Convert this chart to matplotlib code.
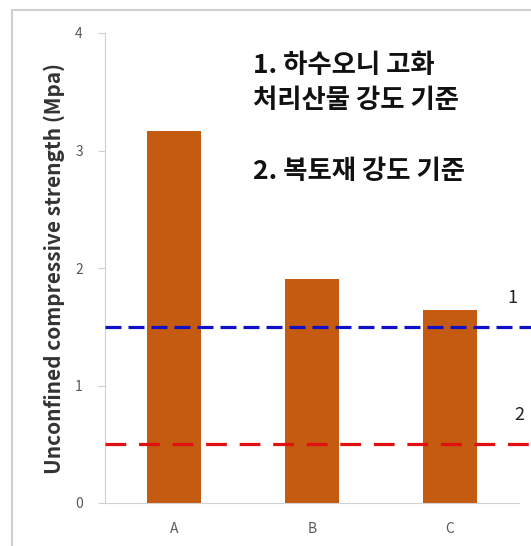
import matplotlib
matplotlib.use("Agg")
import matplotlib.pyplot as plt
from matplotlib.patches import Rectangle

plt.rcParams['font.family'] = ['Noto Sans CJK KR', 'DejaVu Sans']

# 시료별 일축압축강도
samples = ["A", "B", "C"]
strength = [3.17, 1.91, 1.64]

# 기준선 (1: 하수오니 고화처리산물, 2: 복토재)
criteria_values = [1.5, 0.5]
criteria_labels = ["1", "2"]
y_ticks = [0, 1, 2, 3, 4]

note_text = "1. 하수오니 고화\n처리산물 강도 기준\n\n2. 복토재 강도 기준"

W, H = 531, 546
fig = plt.figure(figsize=(W / 100, H / 100), dpi=100)
fig.patch.set_facecolor("white")

# 차트 테두리
fig.patches.append(Rectangle((12 / W, -0.1), 1.2, 1.1 - 10 / H,
                             transform=fig.transFigure, fill=False,
                             edgecolor="#d0d0d0", linewidth=1.5))

ax = fig.add_axes([105 / W, 43 / H, (W - 105) / W, 470 / H])
ax.set_facecolor("none")

x = list(range(len(samples)))
ax.bar(x, strength, width=0.39, color="#C55A11", zorder=2)

# 기준선
ax.axhline(criteria_values[0], color="#1010c8", lw=2.3,
           linestyle=(0, (5, 2.2)), zorder=3)
ax.axhline(criteria_values[1], color="#e01010", lw=2.3,
           linestyle=(0, (6.5, 4)), zorder=3)
ax.text(2.45, criteria_values[0] + 0.245, criteria_labels[0], fontsize=13,
        ha="center", va="center", color="#222222")
ax.text(2.5, criteria_values[1] + 0.25, criteria_labels[1], fontsize=13,
        ha="center", va="center", color="#222222")

ax.set_xlim(-0.5, -0.5 + (W - 105) / 138)
ax.set_ylim(0, 4)
ax.set_xticks(x)
ax.set_xticklabels(samples)
ax.set_yticks(y_ticks)

for s in ["top", "right"]:
    ax.spines[s].set_visible(False)
ax.spines["left"].set_color("#d0d0d0")
ax.spines["bottom"].set_color("#d0d0d0")
ax.spines["bottom"].set_bounds(-0.5, 2.5)
ax.tick_params(axis="y", length=5, color="#d0d0d0", labelsize=10,
               labelcolor="#595959", pad=11)
ax.tick_params(axis="x", length=0, labelsize=10, labelcolor="#595959", pad=14)

fig.text(54 / W, 1 - 268 / H, "Unconfined compressive strength (Mpa)",
         rotation=90, ha="center", va="center", fontsize=15,
         fontweight="bold", color="#333333")

fig.text(253 / W, 1 - 52 / H, note_text, ha="left", va="top",
         fontsize=19, fontweight="bold", color="#111111", linespacing=1.4)

fig.savefig("out.png", dpi=100)
